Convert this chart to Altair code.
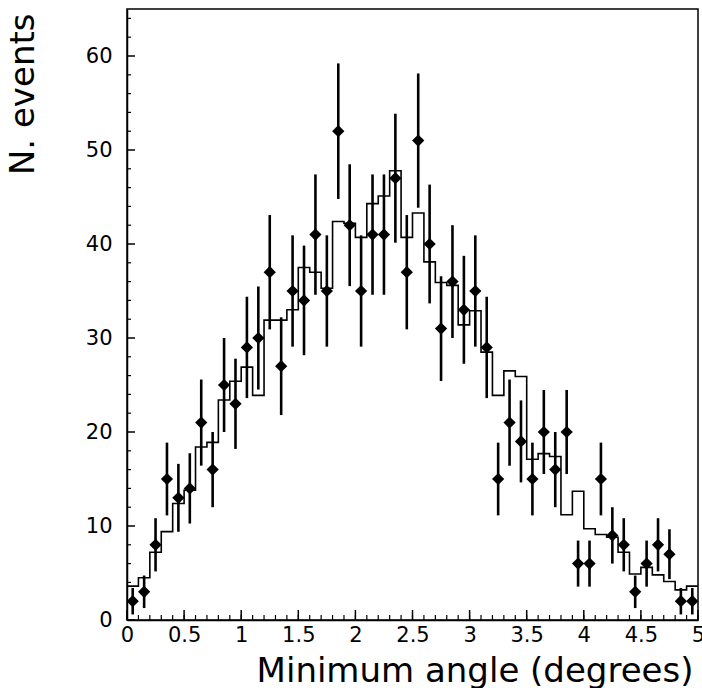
import altair as alt
import pandas as pd

# ---- data ----
bin_centers = [0.05, 0.15, 0.25, 0.35, 0.45, 0.55, 0.65, 0.75, 0.85, 0.95,
               1.05, 1.15, 1.25, 1.35, 1.45, 1.55, 1.65, 1.75, 1.85, 1.95,
               2.05, 2.15, 2.25, 2.35, 2.45, 2.55, 2.65, 2.75, 2.85, 2.95,
               3.05, 3.15, 3.25, 3.35, 3.45, 3.55, 3.65, 3.75, 3.85, 3.95,
               4.05, 4.15, 4.25, 4.35, 4.45, 4.55, 4.65, 4.75, 4.85, 4.95]
counts = [2, 3, 8, 15, 13, 14, 21, 16, 25, 23,
          29, 30, 37, 27, 35, 34, 41, 35, 52, 42,
          35, 41, 41, 47, 37, 51, 40, 31, 36, 33,
          35, 29, 15, 21, 19, 15, 20, 16, 20, 6,
          6, 15, 9, 8, 3, 6, 8, 7, 2, 2]
errors = [1.41, 1.73, 2.83, 3.87, 3.61, 3.74, 4.58, 4.00, 5.00, 4.80,
          5.39, 5.48, 6.08, 5.20, 5.92, 5.83, 6.40, 5.92, 7.21, 6.48,
          5.92, 6.40, 6.40, 6.86, 6.08, 7.14, 6.32, 5.57, 6.00, 5.74,
          5.92, 5.39, 3.87, 4.58, 4.36, 3.87, 4.47, 4.00, 4.47, 2.45,
          2.45, 3.87, 3.00, 2.83, 1.73, 2.45, 2.83, 2.65, 1.41, 1.41]
bin_edges = [0.0, 0.1, 0.2, 0.3, 0.4, 0.5, 0.6, 0.7, 0.8, 0.9,
             1.0, 1.1, 1.2, 1.3, 1.4, 1.5, 1.6, 1.7, 1.8, 1.9,
             2.0, 2.1, 2.2, 2.3, 2.4, 2.5, 2.6, 2.7, 2.8, 2.9,
             3.0, 3.1, 3.2, 3.3, 3.4, 3.5, 3.6, 3.7, 3.8, 3.9,
             4.0, 4.1, 4.2, 4.3, 4.4, 4.5, 4.6, 4.7, 4.8, 4.9, 5.0]
mc_values = [3.6, 4.5, 7.2, 9.4, 12.4, 13.8, 18.4, 18.9, 23.4, 25.4,
             26.9, 23.9, 31.9, 31.9, 33.0, 37.5, 37.0, 35.3, 42.4, 42.2,
             40.7, 44.3, 45.1, 47.8, 40.7, 43.3, 38.1, 35.9, 35.6, 31.4,
             32.9, 28.5, 23.9, 26.5, 25.9, 17.1, 17.7, 17.4, 11.2, 13.7,
             9.7, 9.1, 8.8, 7.2, 4.9, 5.6, 4.8, 4.1, 3.2, 3.6]
x_major_ticks = [0, 0.5, 1, 1.5, 2, 2.5, 3, 3.5, 4, 4.5, 5]
x_minor_ticks = bin_edges
y_major_ticks = [0, 10, 20, 30, 40, 50, 60]
y_minor_ticks = [2, 4, 6, 8, 12, 14, 16, 18, 22, 24, 26, 28, 32, 34, 36, 38,
                 42, 44, 46, 48, 52, 54, 56, 58, 62, 64]

FONT = "DejaVu Sans"
W, H = 571, 611

pts = pd.DataFrame({"x": bin_centers, "y": counts, "err": errors})
pts["lo"] = pts["y"] - pts["err"]
pts["hi"] = pts["y"] + pts["err"]
hist = pd.DataFrame({"x": bin_edges, "y": mc_values + [mc_values[-1]]})

xs = alt.Scale(domain=[0, 5], nice=False, zero=False)
ys = alt.Scale(domain=[0, 65], nice=False, zero=True)

xaxis = alt.Axis(values=x_major_ticks, format="~g", ticks=False, grid=False,
                 domainColor="black", domainWidth=1.5,
                 labelFont=FONT, labelFontSize=21, labelColor="black",
                 labelPadding=4, labelFlush=False, labelOverlap=False,
                 title="Minimum angle (degrees)", titleFont=FONT,
                 titleFontSize=34, titleFontWeight="normal", titleColor="black",
                 titleX=566, titleY=61, titleAlign="right",
                 titleBaseline="alphabetic", titleAnchor="end")
yaxis = alt.Axis(values=y_major_ticks, ticks=False, grid=False,
                 domainColor="black", domainWidth=1.5,
                 labelFont=FONT, labelFontSize=21, labelColor="black",
                 labelPadding=15, labelOverlap=False,
                 title="N. events", titleFont=FONT, titleFontSize=34,
                 titleFontWeight="normal", titleColor="black",
                 titleAngle=270, titleX=-94, titleY=4, titleAlign="right",
                 titleBaseline="alphabetic", titleAnchor="end")

hist_line = alt.Chart(hist).mark_line(
    interpolate="step-after", color="black", strokeWidth=1.6
).encode(
    x=alt.X("x:Q", scale=xs, axis=xaxis),
    y=alt.Y("y:Q", scale=ys, axis=yaxis),
)

bars = alt.Chart(pts).mark_rule(color="black", strokeWidth=2.6).encode(
    x=alt.X("x:Q", scale=xs), y=alt.Y("lo:Q", scale=ys), y2="hi:Q"
)
dots = alt.Chart(pts).mark_point(
    shape="diamond", filled=True, color="black", size=150, opacity=1
).encode(x=alt.X("x:Q", scale=xs), y=alt.Y("y:Q", scale=ys))

xmin = alt.Chart(pd.DataFrame({"t": x_minor_ticks})).mark_rule(
    color="black", strokeWidth=1.2).encode(
    x=alt.X("t:Q", scale=xs), y=alt.value(H), y2=alt.value(H - 5))
xmaj = alt.Chart(pd.DataFrame({"t": x_major_ticks})).mark_rule(
    color="black", strokeWidth=1.5).encode(
    x=alt.X("t:Q", scale=xs), y=alt.value(H), y2=alt.value(H - 10))
ymin = alt.Chart(pd.DataFrame({"t": y_minor_ticks})).mark_rule(
    color="black", strokeWidth=1.2).encode(
    y=alt.Y("t:Q", scale=ys), x=alt.value(0), x2=alt.value(4))
ymaj = alt.Chart(pd.DataFrame({"t": y_major_ticks})).mark_rule(
    color="black", strokeWidth=1.5).encode(
    y=alt.Y("t:Q", scale=ys), x=alt.value(0), x2=alt.value(8))

chart = alt.layer(hist_line, bars, dots, xmin, xmaj, ymin, ymaj).properties(
    width=W, height=H,
    autosize=alt.AutoSizeParams(type="none"),
    padding={"left": 127, "top": 9, "right": 4, "bottom": 68},
    background="white",
).configure_view(stroke="black", strokeWidth=1.5)

chart.save("out.html", embed_options={"renderer": "svg", "actions": False})
